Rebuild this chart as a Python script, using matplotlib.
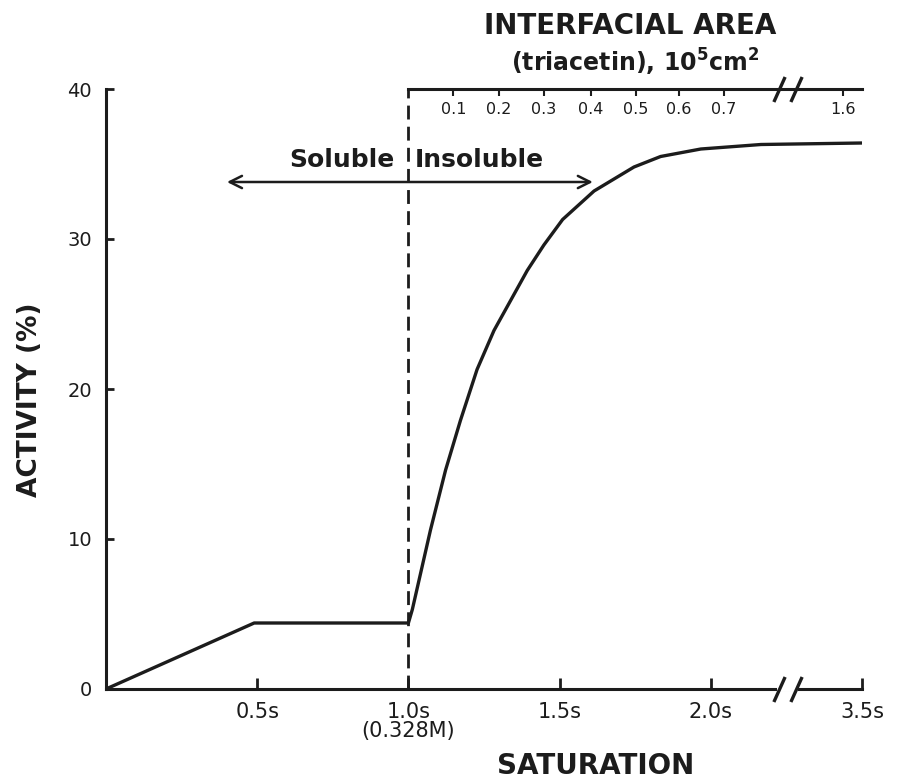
import matplotlib
matplotlib.use("Agg")
import matplotlib.pyplot as plt

# ---- data ----
saturation = [0.0, 0.49, 1.0, 1.013, 1.073, 1.123, 1.172, 1.227, 1.283, 1.338,
              1.393, 1.448, 1.51, 1.614, 1.746, 1.834, 1.967, 2.166, 2.5]
activity = [0.0, 4.4, 4.4, 5.3, 10.6, 14.6, 17.9, 21.3, 23.9, 25.9,
            27.9, 29.6, 31.3, 33.2, 34.8, 35.5, 36.0, 36.3, 36.4]

x_ticks = [0.5, 1.0, 1.5, 2.0, 2.5]
x_tick_labels = ["0.5s", "1.0s\n(0.328M)", "1.5s", "2.0s", "3.5s"]
y_ticks = [0, 10, 20, 30, 40]
y_tick_labels = ["0", "10", "20", "30", "40"]

area_tick_pos = [1.149, 1.298, 1.447, 1.603, 1.752, 1.894, 2.043, 2.437]
area_tick_labels = ["0.1", "0.2", "0.3", "0.4", "0.5", "0.6", "0.7", "1.6"]

saturation_point = 1.0      # dashed line (0.328M)
axis_break = 2.255          # position of the // break marks
arrow_left, arrow_right, arrow_y = 0.40, 1.61, 33.8

INK = "#1c1c1c"
plt.rcParams["font.family"] = ["DejaVu Sans"]
plt.rcParams["mathtext.fontset"] = "dejavusans"

fig = plt.figure(figsize=(8.97, 7.79), dpi=100)
ax = fig.add_axes([106/897, 90/779, 756/897, 600/779])
ax.set_xlim(0, 2.5)
ax.set_ylim(0, 40)

ax.plot(saturation, activity, color=INK, lw=2.4, solid_joinstyle="round", zorder=3)
ax.axvline(saturation_point, color=INK, lw=2.0, ls=(0, (5, 2.6)), zorder=2)

for s in ["top", "right"]:
    ax.spines[s].set_visible(False)
for s in ["left", "bottom"]:
    ax.spines[s].set_linewidth(2.2)
    ax.spines[s].set_color(INK)

ax.set_xticks(x_ticks)
ax.set_xticklabels(x_tick_labels, fontsize=15, color=INK)
ax.set_yticks(y_ticks)
ax.set_yticklabels(y_tick_labels, fontsize=14, color=INK)
ax.tick_params(axis="x", direction="in", length=8, width=2, pad=9, colors=INK)
ax.tick_params(axis="y", direction="in", length=6, width=2, pad=10, colors=INK)
for lab in ax.get_xticklabels():
    lab.set_linespacing(1.0)

# top (interfacial area) axis
ax2 = ax.twiny()
ax2.set_xlim(ax.get_xlim())
for s in ["bottom", "left", "right"]:
    ax2.spines[s].set_visible(False)
ax2.spines["top"].set_bounds(saturation_point, 2.5)
ax2.spines["top"].set_linewidth(2.2)
ax2.spines["top"].set_color(INK)
ax2.set_xticks(area_tick_pos)
ax2.set_xticklabels(area_tick_labels, fontsize=11.5, color=INK)
ax2.tick_params(axis="x", direction="in", length=5, width=1.5, pad=-20, colors=INK)

# axis breaks
slash = [(-0.45, -1), (0.45, 1)]
for yv in (0, 40):
    ax.plot([axis_break - 0.035, axis_break + 0.035], [yv, yv], color="white",
            lw=4, clip_on=False, zorder=6, solid_capstyle="butt")
    ax.plot([axis_break - 0.028, axis_break + 0.028], [yv, yv], ls="none",
            marker=slash, markersize=18, mew=2.4, color=INK, clip_on=False, zorder=7)

# Soluble / Insoluble arrow
ax.annotate("", xy=(arrow_left, arrow_y), xytext=(arrow_right, arrow_y),
            arrowprops=dict(arrowstyle="<->", lw=1.8, color=INK, mutation_scale=22,
                            shrinkA=0, shrinkB=0))
ax.text(saturation_point - 0.045, arrow_y + 0.7, "Soluble", ha="right", va="bottom",
        fontsize=18, fontweight="bold", color=INK)
ax.text(saturation_point + 0.02, arrow_y + 0.7, "Insoluble", ha="left", va="bottom",
        fontsize=18, fontweight="bold", color=INK)

# labels
fig.text(30/897, 1 - 400/779, "ACTIVITY (%)", rotation=90, ha="center", va="center",
         fontsize=19, fontweight="bold", color=INK)
fig.text(596/897, 1 - 766/779, "SATURATION", ha="center", va="center",
         fontsize=20, fontweight="bold", color=INK)
fig.text(630/897, 1 - 26/779, "INTERFACIAL AREA", ha="center", va="center",
         fontsize=20, fontweight="bold", color=INK)
fig.text(635/897, 1 - 62/779, r"(triacetin), 10$^{\mathbf{5}}$cm$^{\mathbf{2}}$",
         ha="center", va="center", fontsize=17, fontweight="bold", color=INK)

fig.savefig("out.png", dpi=100, facecolor="white")
